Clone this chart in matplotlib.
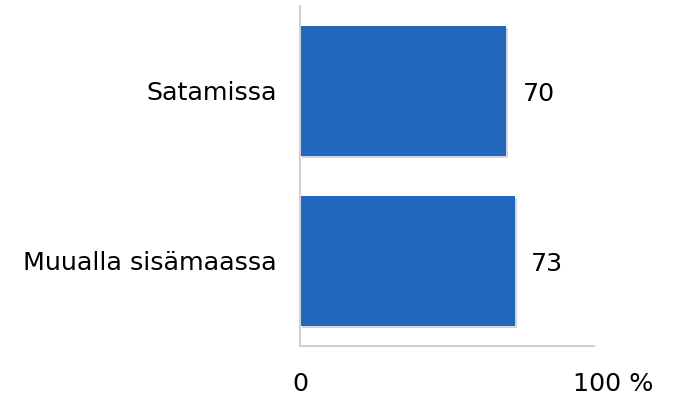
import matplotlib.pyplot as plt
import matplotlib.patheffects as pe
from matplotlib.transforms import ScaledTranslation

categories = ["Muualla sisämaassa", "Satamissa"]
values = [73, 70]
tick_values = [0, 100]
tick_labels = ["0", "100 %"]

bar_color = "#2366BE"
axis_color = "#D0D0D0"
fs = 18.3

fig = plt.figure(figsize=(6.73, 3.95), dpi=100)
ax = fig.add_axes([0.4458, 0.124, 0.4368, 0.861])

bars = ax.barh(range(len(categories)), values, height=0.765, color=bar_color)
for b in bars:
    b.set_path_effects([pe.SimplePatchShadow(offset=(1.5, -1.5), shadow_rgbFace="#888888",
                                             alpha=0.35),
                        pe.Normal()])

for i, v in enumerate(values):
    ax.annotate(str(v), (v, i), xytext=(12, -2), textcoords="offset points",
                va="center", ha="left", fontsize=fs)

ax.set_xlim(0, 100)
ax.set_ylim(-0.5, 1.5)
ax.set_yticks(range(len(categories)))
ax.set_yticklabels(categories, fontsize=fs)
ax.set_xticks(tick_values)
ax.set_xticklabels(tick_labels, fontsize=fs)
ax.tick_params(axis="y", length=0, pad=17)
ax.tick_params(axis="x", length=0, pad=18.5)

# shift the "100 %" label a bit right of the axis end
lbl = ax.get_xticklabels()[1]
lbl.set_transform(lbl.get_transform() + ScaledTranslation(19 / 100, 0, fig.dpi_scale_trans))

for side in ["top", "right"]:
    ax.spines[side].set_visible(False)
for side in ["left", "bottom"]:
    ax.spines[side].set_color(axis_color)
    ax.spines[side].set_linewidth(1.5)

fig.savefig("out.png", dpi=100)
